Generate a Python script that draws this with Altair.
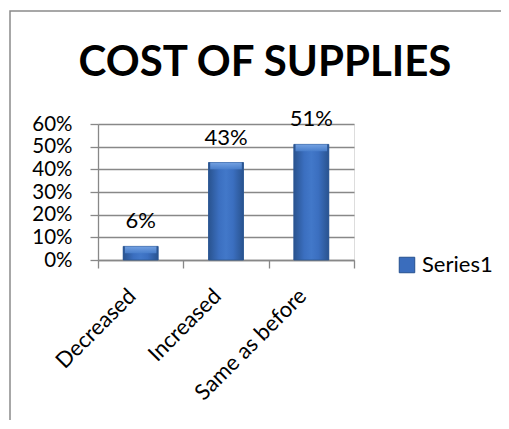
import altair as alt
import pandas as pd

categories = ["Decreased", "Increased", "Same as before"]
values = [0.06, 0.43, 0.51]
labels = ["6%", "43%", "51%"]
series = ["Series1", "Series1", "Series1"]
y_ticks = [0.0, 0.1, 0.2, 0.3, 0.4, 0.5, 0.6]

df = pd.DataFrame({"category": categories, "value": values, "label": labels, "series": series})

FONT = "Lato"
FS = 22
GRAY = "#888888"
W, H = 256, 136

x_axis = alt.Axis(labelAngle=-45, labelAlign="right", labelBaseline="middle",
                  labelFontSize=FS, labelFont=FONT, labelColor="black",
                  tickBand="extent", tickSize=8, tickColor=GRAY, tickWidth=1.3,
                  domainColor=GRAY, domainWidth=1.3, labelPadding=24, labelOffset=-9,
                  grid=False, labelOverlap=False)
y_axis = alt.Axis(format=".0%", values=y_ticks, labelFontSize=20.5, labelFont=FONT,
                  labelColor="black", tickSize=8, tickColor=GRAY, tickWidth=1.3,
                  domainColor=GRAY, domainWidth=1.3, gridColor=GRAY, gridWidth=1.3,
                  labelPadding=18, labelOverlap=False, labelLineHeight=20)
y_scale = alt.Scale(domain=[0, 0.6], nice=False)

x_enc = alt.X("category:N", sort=categories, title=None,
              scale=alt.Scale(paddingInner=0, paddingOuter=0), axis=x_axis)
y_enc = alt.Y("value:Q", title=None, scale=y_scale, axis=y_axis)

frame = alt.Chart(df).mark_rect(fill="transparent", stroke="#8a8a8a", strokeWidth=1.5).encode(
    x=alt.value(-88), x2=alt.value(W + 300), y=alt.value(-113), y2=alt.value(H + 300)
).transform_filter(alt.datum.category == "Decreased")

legend_bars = alt.Chart(df).mark_bar(width=alt.RelativeBandSize(0.41)).encode(
    x=x_enc, y=y_enc,
    color=alt.Color("series:N", scale=alt.Scale(range=["#3a6dbd"]), title=None,
                    legend=alt.Legend(orient="none", legendX=298, legendY=130,
                                      symbolType="square", symbolSize=240,
                                      symbolFillColor="#3a6dbd", symbolStrokeColor="#25508f",
                                      symbolStrokeWidth=1, labelFontSize=FS, labelFont=FONT,
                                      labelColor="black", labelOffset=4, padding=0)),
)

side_grad = alt.Gradient(
    gradient="linear", x1=0, x2=1, y1=0, y2=0,
    stops=[alt.GradientStop(color="#29538f", offset=0),
           alt.GradientStop(color="#3b6fc0", offset=0.3),
           alt.GradientStop(color="#4278c9", offset=0.5),
           alt.GradientStop(color="#3b6fc0", offset=0.7),
           alt.GradientStop(color="#29538f", offset=1)],
)
bars = alt.Chart(df).mark_bar(width=alt.RelativeBandSize(0.41), fill=side_grad,
                              stroke="#2b5590", strokeWidth=0.8).encode(x=x_enc, y=y_enc)

top_grad = alt.Gradient(
    gradient="linear", x1=0, x2=0, y1=0, y2=1,
    stops=[alt.GradientStop(color="#7aa7e6", offset=0),
           alt.GradientStop(color="#4a80cd", offset=1)],
)
bevel = alt.Chart(df).transform_calculate(
    ytop="datum.value", ybot="datum.value - min(0.03, datum.value / 2)"
).mark_bar(width=alt.RelativeBandSize(0.37), fill=top_grad, opacity=0.9).encode(
    x=x_enc, y=alt.Y("ytop:Q", title=None, scale=y_scale, axis=y_axis), y2="ybot:Q"
)

text = alt.Chart(df).mark_text(dy=-18, fontSize=FS, font=FONT, color="black",
                               baseline="alphabetic").encode(
    x=x_enc, y=y_enc, text="label:N"
)

chart = alt.layer(frame, legend_bars, bars, bevel, text).properties(
    width=W, height=H,
    autosize=alt.AutoSizeParams(type="none"),
    padding={"left": 90, "top": 116, "right": 147, "bottom": 160},
    title=alt.TitleParams("COST OF SUPPLIES", font=FONT, fontSize=42, fontWeight="bold",
                          color="black", anchor="middle", frame="group", baseline="alphabetic",
                          offset=-67, dy=41, dx=39),
).configure_view(stroke=None).configure(background="white")

chart.save("out.html", embed_options={"renderer": "svg", "actions": False})
